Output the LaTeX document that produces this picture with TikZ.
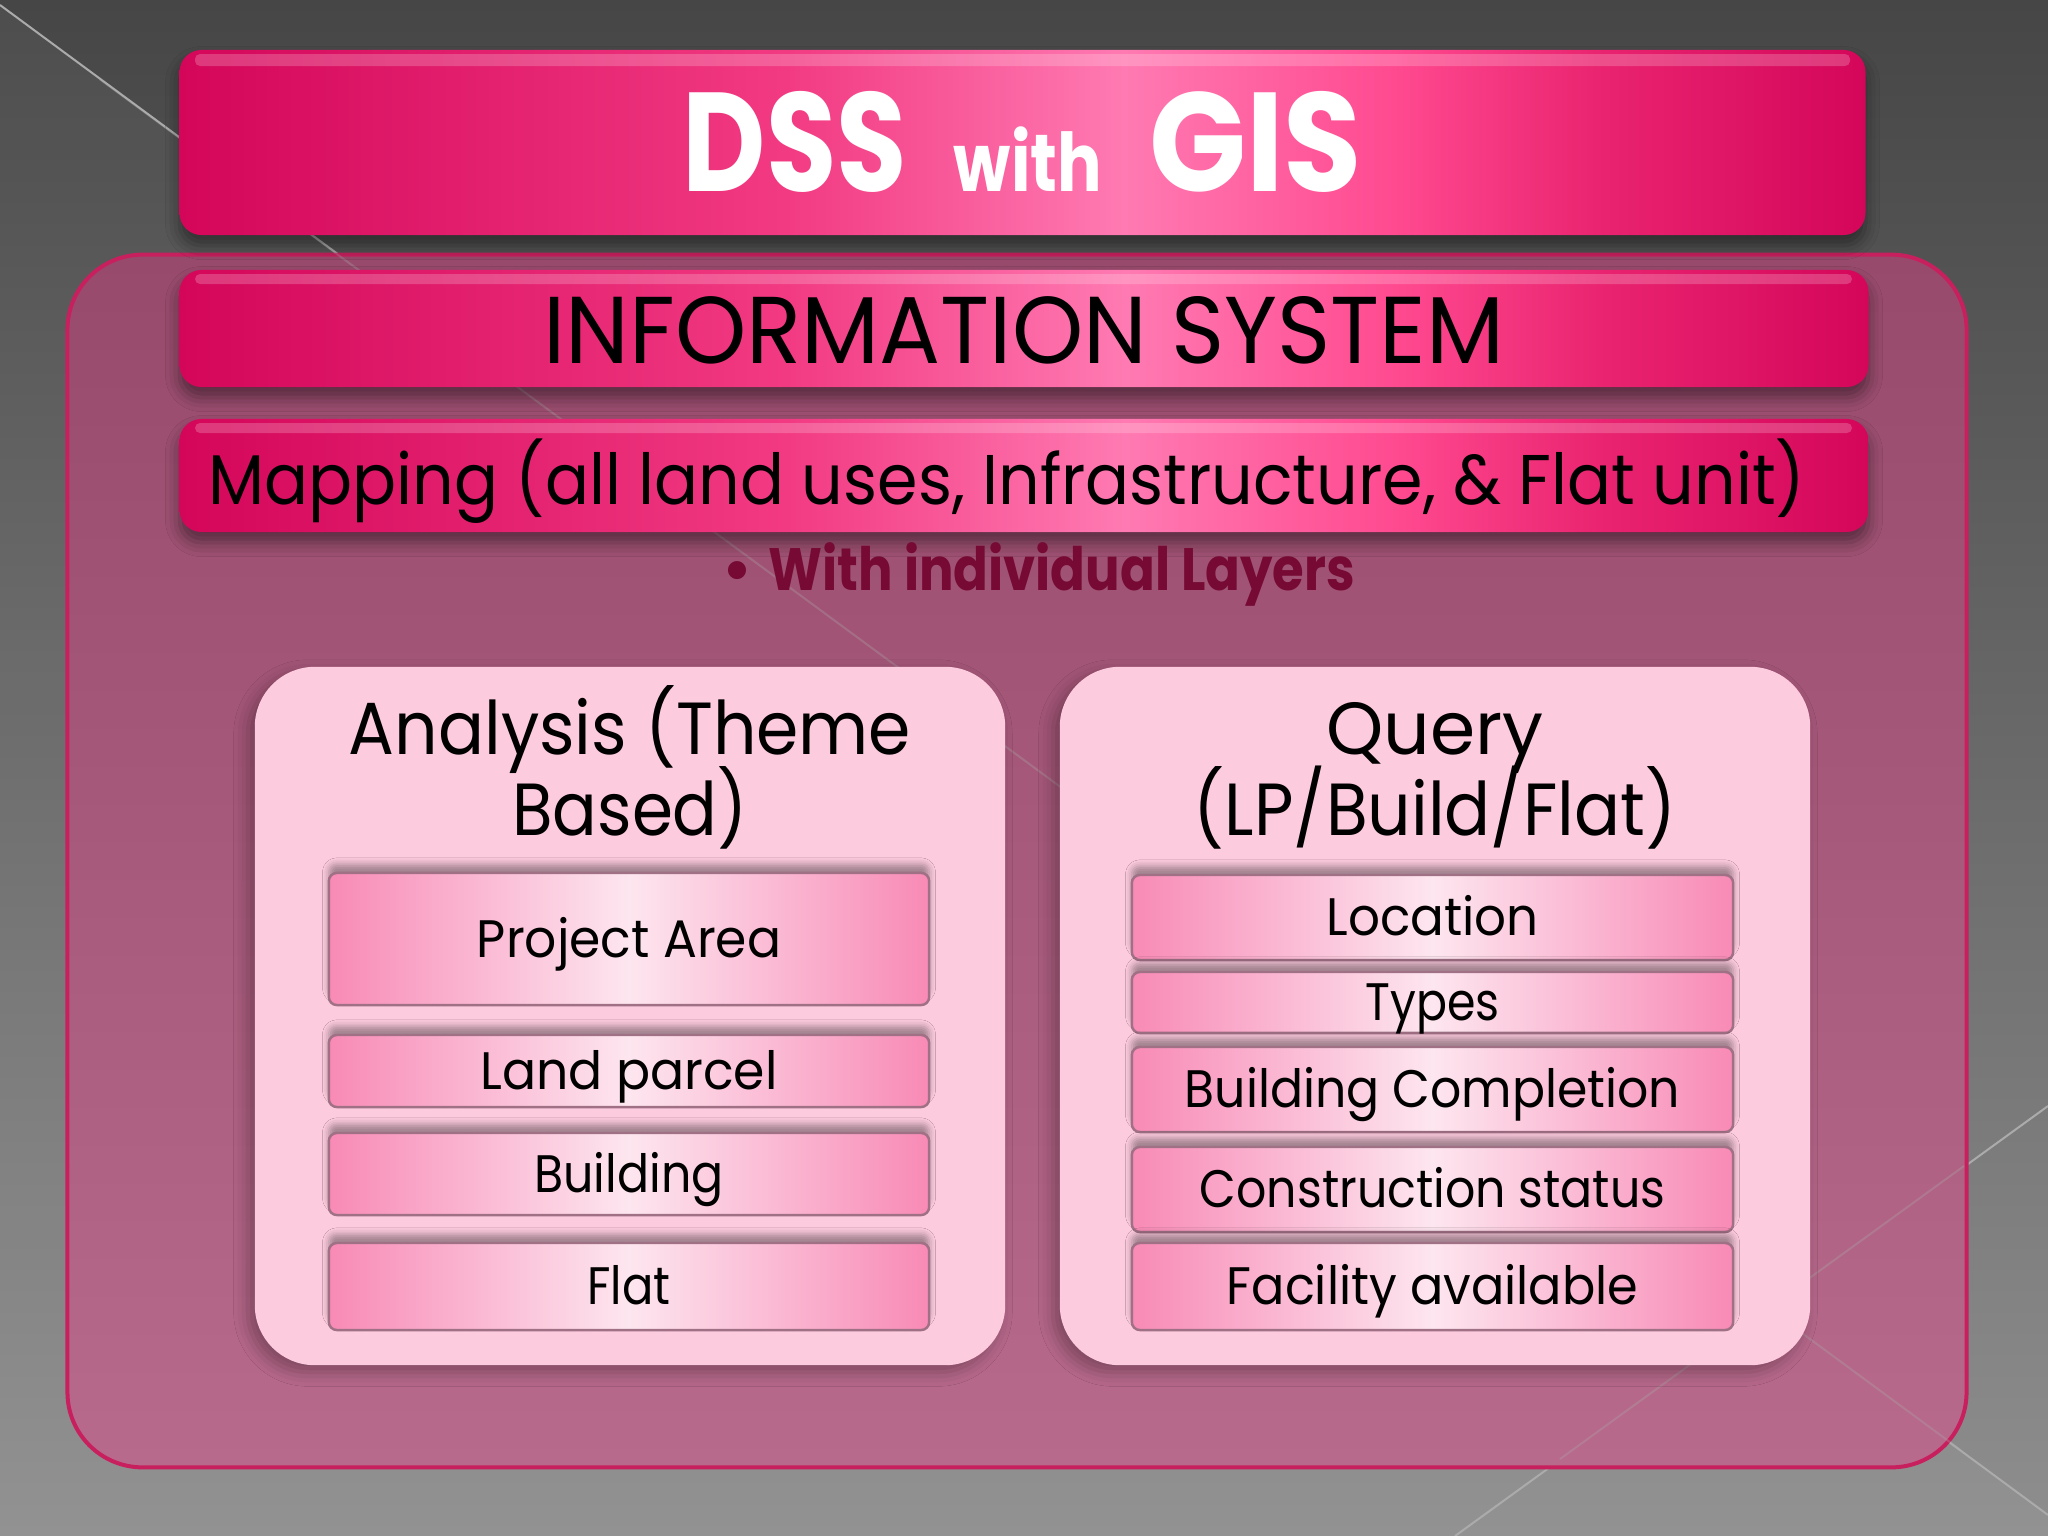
\documentclass[tikz,border=0pt]{standalone}
\usepackage{fontspec}
\setmainfont{Poppins}
\usetikzlibrary{shadows.blur}
\definecolor{bgtop}{HTML}{464646}
\definecolor{bgbot}{HTML}{8E8E8E}
\definecolor{panTop}{HTML}{984A6C}
\definecolor{panBot}{HTML}{B86A8C}
\definecolor{panBorder}{HTML}{C8205E}
\definecolor{barA}{HTML}{D4065A}
\definecolor{barB}{HTML}{F23A82}
\definecolor{barC}{HTML}{FF7AB2}
\definecolor{barD}{HTML}{FF4A90}
\definecolor{barE}{HTML}{EA2470}
\definecolor{innerFill}{HTML}{FDCBDE}
\definecolor{itemEdge}{HTML}{F88AB6}
\definecolor{itemMid}{HTML}{FDE6EF}
\definecolor{itemBorder}{HTML}{A07084}
\definecolor{layerTxt}{HTML}{760A34}
\definecolor{decoLine}{HTML}{ABABAB}
\pgfdeclarehorizontalshading{barshade}{100bp}{color(0bp)=(barA); color(25bp)=(barA); color(43bp)=(barB); color(53bp)=(barC); color(61bp)=(barD); color(67bp)=(barE); color(75bp)=(barA); color(100bp)=(barA)}
\newcommand\fitw[2]{\resizebox{#1}{\height}{#2}}
\begin{document}
\begin{tikzpicture}[x=0.01cm,y=-0.01cm,
  decoline/.style={draw=decoLine, line width=0.02cm},
  barbox/.style={rectangle, rounded corners=0.22cm, shade, shading=barshade, inner sep=0pt, text depth=0pt,
    blur shadow={shadow xshift=0pt, shadow yshift=-3pt, shadow blur radius=4pt, shadow opacity=45}},
  innerpanel/.style={rectangle, rounded corners=0.6cm, fill=innerFill, inner sep=0pt, minimum width=7.5cm, minimum height=6.98cm,
    blur shadow={shadow xshift=-2pt, shadow yshift=-2pt, shadow blur radius=4pt, shadow opacity=30}},
  itembox/.style={rectangle, rounded corners=0.08cm, draw=itemBorder, line width=0.7pt, left color=itemEdge, right color=itemEdge, middle color=itemMid,
    inner sep=0pt, text height=0.36cm, text depth=0pt, font=\fontsize{15pt}{18pt}\selectfont,
    blur shadow={shadow xshift=0pt, shadow yshift=2.5pt, shadow blur radius=1.8pt, shadow opacity=35}},
  ltitle/.style={anchor=base, inner sep=0pt, font=\fontsize{21pt}{24pt}\selectfont}
]
\useasboundingbox (0,0) rectangle (2048,1536);
% background
\shade[top color=bgtop, bottom color=bgbot] (0,0) rectangle (2048,1536);
\fill[white, opacity=0.04] (0,5) -- (2048,1515) -- (2048,1536) -- (0,1536) -- cycle;
\draw[decoline] (0,5) -- (2048,1515);
\draw[decoline] (2048,1106) -- (1455,1536);
% outer panel
\node[draw=panBorder, line width=0.04cm, rounded corners=0.75cm, top color=panTop, bottom color=panBot,
  minimum width=18.98cm, minimum height=12.12cm, inner sep=0pt] (sys) at (1017,861) {};
\draw[decoline, opacity=0.3] (100,79.5) -- (1960,1449.5);
\draw[decoline, opacity=0.3] (1964,1166) -- (1560,1459);
% title bar
\node[barbox, minimum width=16.85cm, minimum height=1.85cm, text=white, font=\bfseries, text height=0.98cm] (title) at (1022.5,142.5)
  {\fitw{2.24cm}{\fontsize{40pt}{40pt}\selectfont DSS}\hspace{0.47cm}\fitw{1.48cm}{\fontsize{23pt}{23pt}\selectfont with}\hspace{0.47cm}\fitw{2.13cm}{\fontsize{40pt}{40pt}\selectfont GIS}};
\fill[white, opacity=0.2, rounded corners=0.05cm] (195,54) rectangle (1850,66);
% information system bar
\node[barbox, minimum width=16.88cm, minimum height=1.17cm, text height=0.69cm, font=\fontsize{27pt}{30pt}\selectfont] (info) at (1024,328.5)
  {\fitw{9.6cm}{INFORMATION SYSTEM}};
\fill[white, opacity=0.2, rounded corners=0.05cm] (195,274) rectangle (1852,284);
% mapping bar
\node[barbox, minimum width=16.88cm, minimum height=1.13cm, text height=0.57cm, font=\fontsize{20pt}{24pt}\selectfont] (map) at (1024,475.5)
  {\fitw{15.96cm}{Mapping (all land uses, Infrastructure, \& Flat unit)}\hspace*{0.34cm}};
\fill[white, opacity=0.2, rounded corners=0.05cm] (195,423) rectangle (1852,433);
% layers
\node[anchor=base west, inner sep=0pt, text=layerTxt, font=\bfseries\fontsize{17pt}{20pt}\selectfont] (layers) at (722,590)
  {\makebox[0.46cm][l]{\textbullet}\fitw{5.86cm}{With individual Layers}};
% inner panels
\node[innerpanel] (left) at (630,1016) {};
\node[innerpanel] (right) at (1435,1016) {};
\node[ltitle] (lt1) at (630,754) {\fitw{5.62cm}{Analysis (Theme}};
\node[ltitle] (lt2) at (630,835) {\fitw{2.35cm}{Based)}};
\node[ltitle] (rt1) at (1435,754) {\fitw{2.17cm}{Query}};
\node[ltitle] (rt2) at (1435,835) {\fitw{4.82cm}{(LP/Build/Flat)}};
% left items
\node[itembox, minimum width=6cm, minimum height=1.32cm] (pa) at (629,939) {\fitw{3.04cm}{Project Area}};
\node[itembox, minimum width=6cm, minimum height=0.72cm] (lp) at (629,1071) {\fitw{2.97cm}{Land parcel}};
\node[itembox, minimum width=6cm, minimum height=0.82cm] (bd) at (629,1174) {\fitw{1.89cm}{Building}};
\node[itembox, minimum width=6cm, minimum height=0.87cm] (ft) at (629,1286.5) {\fitw{0.83cm}{Flat}};
% right items
\node[itembox, minimum width=6.01cm, minimum height=0.85cm] (loc) at (1432.5,917.5) {\fitw{2.12cm}{Location}};
\node[itembox, minimum width=6.01cm, minimum height=0.61cm] (typ) at (1432.5,1002.5) {\fitw{1.34cm}{Types}};
\node[itembox, minimum width=6.01cm, minimum height=0.85cm] (bc) at (1432.5,1089.5) {\fitw{4.95cm}{Building Completion}};
\node[itembox, minimum width=6.01cm, minimum height=0.85cm] (cs) at (1432.5,1189.5) {\fitw{4.65cm}{Construction status}};
\node[itembox, minimum width=6.01cm, minimum height=0.87cm] (fa) at (1432.5,1286.5) {\fitw{4.11cm}{Facility available}};
\end{tikzpicture}
\end{document}
